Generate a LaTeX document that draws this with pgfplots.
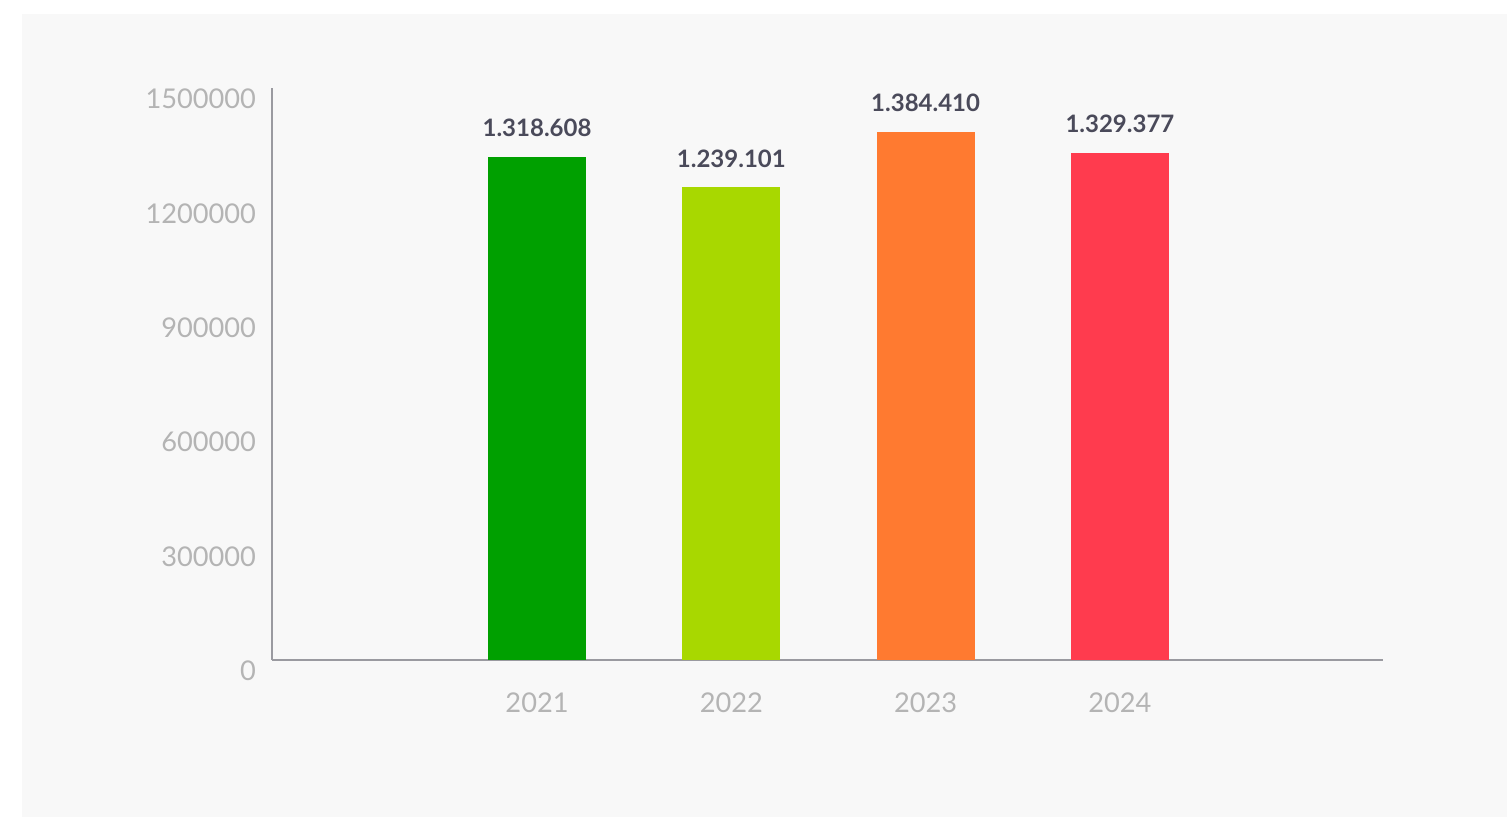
\documentclass[border=0pt]{standalone}
\usepackage{fontspec}
\setmainfont{Lato}
\usepackage{pgfplots}
\pgfplotsset{compat=1.18}
\definecolor{bg}{HTML}{F8F8F8}
\definecolor{cA}{HTML}{00A000}
\definecolor{cB}{HTML}{A8D800}
\definecolor{cC}{HTML}{FF7A30}
\definecolor{cD}{HTML}{FF3B4E}
\definecolor{valtxt}{HTML}{4A4A5A}
\definecolor{ticktxt}{HTML}{B4B4B4}
\definecolor{axline}{HTML}{9A9AA0}
\begin{document}
\begin{tikzpicture}
\fill[white] (0,0) rectangle (753.5pt,408.5pt);
\fill[bg] (11pt,0) rectangle (753.5pt,401.5pt);
\begin{axis}[
  at={(136pt,78.5pt)}, anchor=south west,
  scale only axis, width=555.5pt, height=286pt,
  xmin=-1.364, xmax=4.354,
  ymin=0, ymax=1500000,
  ytick={0,300000,600000,900000,1200000,1500000},
  scaled y ticks=false,
  yticklabel={\pgfmathprintnumber[fixed,1000 sep={}]{\tick}},
  xtick={0,1,2,3}, xticklabels={2021,2022,2023,2024},
  axis x line*=bottom, axis y line*=left,
  axis line style={axline, line width=0.75pt},
  major tick length=0pt,
  tick label style={font=\fontsize{13.6}{15}\selectfont, text=ticktxt},
  /pgf/number format/assume math mode=true,
  yticklabel style={yshift=-5.5pt, xshift=-4.5pt},
  xticklabel style={yshift=-13pt},
  ybar, bar width=49pt, bar shift=0pt,
  point meta=explicit symbolic,
  nodes near coords,
  nodes near coords style={font=\fontsize{12}{14}\selectfont\bfseries, text=valtxt, anchor=south, yshift=6.5pt},
  clip=false,
]
\addplot[fill=cA, draw=none] table[meta=l] {
x y l
0 1318608 1.318.608
};
\addplot[fill=cB, draw=none] table[meta=l] {
x y l
1 1239101 1.239.101
};
\addplot[fill=cC, draw=none] table[meta=l] {
x y l
2 1384410 1.384.410
};
\addplot[fill=cD, draw=none] table[meta=l] {
x y l
3 1329377 1.329.377
};
\end{axis}
\end{tikzpicture}
\end{document}
